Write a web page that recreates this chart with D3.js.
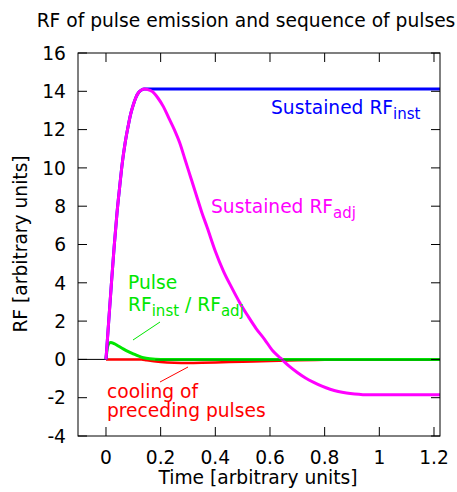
<!doctype html>
<html>
<head>
<meta charset="utf-8"/>
<title>RF of pulse emission</title>
<script src="https://d3js.org/d3.v7.min.js"></script>
<style>
 body { margin:0; background:#fff; }
 text { font-family: "DejaVu Sans", sans-serif; }
</style>
</head>
<body>
<script>
// sustained RF adjusted (magenta)
var tAdj  = [0,0.01,0.02,0.03,0.04,0.05,0.06,0.07,0.08,0.09,0.10,0.11,0.12,0.13,0.14,0.15,
             0.17,0.19,0.21,0.23,0.25,0.27,0.29,0.31,0.33,0.35,0.37,0.40,0.43,0.46,0.49,0.52,
             0.55,0.58,0.61,0.64,0.67,0.70,0.73,0.76,0.79,0.82,0.85,0.88,0.91,0.94,0.97,1.0,1.222];
var rfAdj = [0,2.0,4.0,5.9,7.6,9.0,10.3,11.3,12.1,12.8,13.3,13.7,13.95,14.07,14.12,14.1,
             13.98,13.65,13.2,12.6,12.0,11.3,10.4,9.5,8.6,7.7,6.9,5.65,4.6,3.75,2.95,2.25,
             1.6,1.05,0.45,0.05,-0.35,-0.68,-0.97,-1.2,-1.4,-1.56,-1.68,-1.76,-1.81,-1.84,-1.85,-1.85,-1.85];
// sustained RF instantaneous (blue)
var tInst  = [0,0.01,0.02,0.03,0.04,0.05,0.06,0.07,0.08,0.09,0.10,0.11,0.12,0.13,0.14,0.15,1.222];
var rfInst = [0,2.0,4.0,5.9,7.6,9.0,10.3,11.3,12.1,12.8,13.3,13.7,13.95,14.07,14.12,14.12,14.12];
// single pulse (green)
var tPulse  = [0,0.005,0.01,0.017,0.03,0.045,0.063,0.08,0.10,0.12,0.137,0.16,0.18,0.2,1.222];
var rfPulse = [0,0.6,0.82,0.88,0.82,0.7,0.55,0.42,0.29,0.17,0.09,0.03,0.005,0,0];
// cooling of preceding pulses (red)
var tCool  = [0,0.13,0.15,0.2,0.25,0.3,0.35,0.4,0.5,0.6,0.7,0.8,0.9,1.222];
var rfCool = [0,0,-0.05,-0.14,-0.18,-0.19,-0.18,-0.16,-0.12,-0.08,-0.04,-0.02,0,0];

var xTicks = [0,0.2,0.4,0.6,0.8,1,1.2];
var xTickLabels = ["0","0.2","0.4","0.6","0.8","1","1.2"];
var yTicks = [-4,-2,0,2,4,6,8,10,12,14,16];

var W = 457, H = 492;
var FS = 18.67, SUB = 15;
var svg = d3.select("body").append("svg").attr("width", W).attr("height", H);

var x = d3.scaleLinear().domain([-0.1024, 1.222]).range([78, 440]);
var y = d3.scaleLinear().domain([-4, 16]).range([436, 53]);

// title
svg.append("text").attr("x", 246).attr("y", 27).attr("text-anchor", "middle")
  .attr("font-size", FS).text("RF of pulse emission and sequence of pulses");

// zero axis
svg.append("line").attr("x1", x.range()[0]).attr("x2", x.range()[1])
  .attr("y1", y(0)).attr("y2", y(0)).attr("stroke", "black").attr("stroke-width", 1);

function curve(ts, vs, col, w) {
  var line = d3.line().x(function(d,i){return x(ts[i]);}).y(function(d){return y(d);})
    .curve(d3.curveMonotoneX);
  svg.append("path").datum(vs).attr("d", line).attr("fill", "none")
    .attr("stroke", col).attr("stroke-width", w).attr("stroke-linejoin", "round");
}
curve(tCool, rfCool, "#ff0000", 2.5);
curve(tPulse, rfPulse, "#00e600", 3);
curve(tInst, rfInst, "#0000ff", 3);
curve(tAdj, rfAdj, "#ff00ff", 3);

// dark zero line seen through the green
svg.append("line").attr("x1", x(0.18)).attr("x2", x.range()[1])
  .attr("y1", y(0)+0.5).attr("y2", y(0)+0.5).attr("stroke", "#006000").attr("stroke-width", 1).attr("opacity", 0.7);

// axes (ticks inward, mirrored)
var g = svg.append("g");
g.append("rect").attr("x", 78).attr("y", 53).attr("width", 362).attr("height", 383)
  .attr("fill", "none").attr("stroke", "black").attr("stroke-width", 1);
xTicks.forEach(function(t, i) {
  g.append("line").attr("x1", x(t)).attr("x2", x(t)).attr("y1", 436).attr("y2", 427).attr("stroke", "black");
  g.append("line").attr("x1", x(t)).attr("x2", x(t)).attr("y1", 53).attr("y2", 62).attr("stroke", "black");
  g.append("text").attr("x", x(t)).attr("y", 464).attr("text-anchor", "middle")
    .attr("font-size", FS).text(xTickLabels[i]);
});
yTicks.forEach(function(v) {
  g.append("line").attr("x1", 78).attr("x2", 87).attr("y1", y(v)).attr("y2", y(v)).attr("stroke", "black");
  g.append("line").attr("x1", 440).attr("x2", 431).attr("y1", y(v)).attr("y2", y(v)).attr("stroke", "black");
  g.append("text").attr("x", 66).attr("y", y(v)).attr("dy", "0.36em").attr("text-anchor", "end")
    .attr("font-size", FS).text(v);
});

// axis labels
svg.append("text").attr("x", 258).attr("y", 484).attr("text-anchor", "middle")
  .attr("font-size", FS).text("Time [arbitrary units]");
svg.append("text").attr("transform", "translate(27,244) rotate(-90)").attr("text-anchor", "middle")
  .attr("font-size", FS).text("RF [arbitrary units]");

// curve labels
function subLabel(xp, yp, col, parts) {
  var t = svg.append("text").attr("x", xp).attr("y", yp).attr("fill", col).attr("font-size", FS);
  parts.forEach(function(p) {
    if (p.sub) t.append("tspan").attr("dy", 5).attr("font-size", SUB).text(p.s);
    else t.append("tspan").attr("dy", p.back ? -5 : 0).text(p.s);
  });
}
subLabel(271, 114, "#0000ff", [{s:"Sustained RF"}, {s:"inst", sub:true}]);
subLabel(211, 213, "#ff00ff", [{s:"Sustained RF"}, {s:"adj", sub:true}]);
svg.append("text").attr("x", 128).attr("y", 289).attr("fill", "#00e600").attr("font-size", FS).text("Pulse");
subLabel(128, 311, "#00e600", [{s:"RF"}, {s:"inst", sub:true}, {s:" / RF", back:true}, {s:"adj", sub:true}]);
svg.append("line").attr("x1", 160).attr("y1", 322).attr("x2", 133).attr("y2", 340)
  .attr("stroke", "#00e600").attr("stroke-width", 1);
svg.append("text").attr("x", 107).attr("y", 398).attr("fill", "#ff0000").attr("font-size", FS).text("cooling of");
svg.append("text").attr("x", 107).attr("y", 417).attr("fill", "#ff0000").attr("font-size", FS).text("preceding pulses");
svg.append("line").attr("x1", 188).attr("y1", 367).attr("x2", 160).attr("y2", 382)
  .attr("stroke", "#ff0000").attr("stroke-width", 1);
</script>
</body>
</html>
